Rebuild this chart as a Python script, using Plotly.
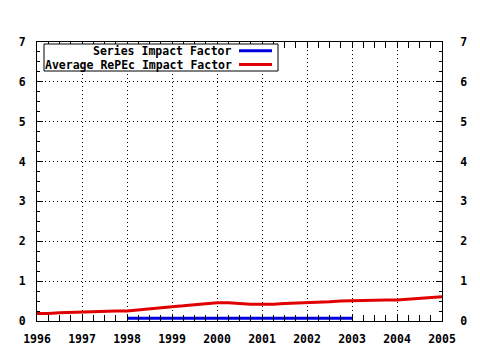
import plotly.graph_objects as go

years_red = [1996.0, 1996.25, 1996.5, 1996.75, 1997.0, 1997.25, 1997.5, 1997.75,
             1998.0, 1998.25, 1998.5, 1998.75, 1999.0, 1999.25, 1999.5, 1999.75,
             2000.0, 2000.25, 2000.5, 2000.75, 2001.0, 2001.25, 2001.5, 2001.75,
             2002.0, 2002.25, 2002.5, 2002.75, 2003.0, 2003.25, 2003.5, 2003.75,
             2004.0, 2004.25, 2004.5, 2004.75, 2005.0]
avg_repec_if = [0.19, 0.19, 0.21, 0.22, 0.22, 0.23, 0.24, 0.25,
                0.25, 0.28, 0.30, 0.33, 0.36, 0.38, 0.41, 0.44,
                0.46, 0.46, 0.44, 0.42, 0.42, 0.42, 0.44, 0.45,
                0.45, 0.47, 0.48, 0.50, 0.51, 0.51, 0.52, 0.53,
                0.53, 0.55, 0.56, 0.58, 0.61]
years_blue = [1998, 1999, 2000, 2001, 2002, 2003]
series_if = [0.07, 0.07, 0.07, 0.07, 0.07, 0.07]

x_ticks = [1996, 1997, 1998, 1999, 2000, 2001, 2002, 2003, 2004, 2005]
y_ticks = [0, 1, 2, 3, 4, 5, 6, 7]
legend_names = ["Series Impact Factor", "Average RePEc Impact Factor"]
RED = "#e00000"
BLUE = "#0000e0"
FONT = dict(family="DejaVu Sans Mono", size=11.5, color="black", weight="bold")

fig = go.Figure()
fig.add_trace(go.Scatter(x=years_blue, y=series_if, mode="lines",
                         line=dict(color=BLUE, width=3), name=legend_names[0]))
fig.add_trace(go.Scatter(x=years_red, y=avg_repec_if, mode="lines",
                         line=dict(color=RED, width=3), name=legend_names[1]))
# right axis labels
fig.add_trace(go.Scatter(x=[x_ticks[0]], y=[y_ticks[0]], yaxis="y2", mode="markers",
                         marker=dict(opacity=0), hoverinfo="skip", showlegend=False))

W, H = 480, 350
L, R, T, B = 37, 38, 42, 29
pw, ph = W - L - R, H - T - B

def px(x):
    return (x - L) / pw

def py(y):
    return (H - B - y) / ph

axis_common = dict(showline=True, linecolor="black", linewidth=1,
                   ticks="inside", ticklen=6, tickcolor="black",
                   tickfont=FONT, zeroline=False, automargin=False)
grid = dict(showgrid=True, gridcolor="black", griddash="1px,3px", gridwidth=1)
minor = dict(ticks="inside", dtick=0.25, ticklen=3, tickcolor="black", showgrid=False)

fig.update_layout(
    width=W, height=H,
    margin=dict(l=L, r=R, t=T, b=B, pad=0, autoexpand=False),
    paper_bgcolor="white", plot_bgcolor="white",
    showlegend=False,
    xaxis=dict(range=[x_ticks[0], x_ticks[-1]], tickvals=x_ticks, mirror="allticks",
               minor=minor, ticklabelstandoff=7, **grid, **axis_common),
    yaxis=dict(range=[y_ticks[0], y_ticks[-1]], tickvals=y_ticks, mirror="allticks",
               minor=minor, ticklabelstandoff=8, **grid, **axis_common),
    yaxis2=dict(range=[y_ticks[0], y_ticks[-1]], tickvals=y_ticks, overlaying="y", side="right",
                showgrid=False, ticklabelstandoff=15, **axis_common),
)

# custom legend (text right-aligned, sample on the right, boxed)
fig.add_shape(type="rect", xref="paper", yref="paper",
              x0=px(44), x1=px(278), y0=py(71), y1=py(44),
              line=dict(color="black", width=1), fillcolor="white", layer="above")
for name, color, yy in [(legend_names[0], BLUE, 50.8), (legend_names[1], RED, 64.5)]:
    fig.add_annotation(text=name, xref="paper", yref="paper", x=px(233), y=py(yy),
                       xanchor="right", yanchor="middle", showarrow=False, font=FONT,
                       borderpad=0)
    fig.add_shape(type="line", xref="paper", yref="paper",
                  x0=px(239), x1=px(272), y0=py(yy), y1=py(yy),
                  line=dict(color=color, width=3), layer="above")

fig.write_html("out.html")
